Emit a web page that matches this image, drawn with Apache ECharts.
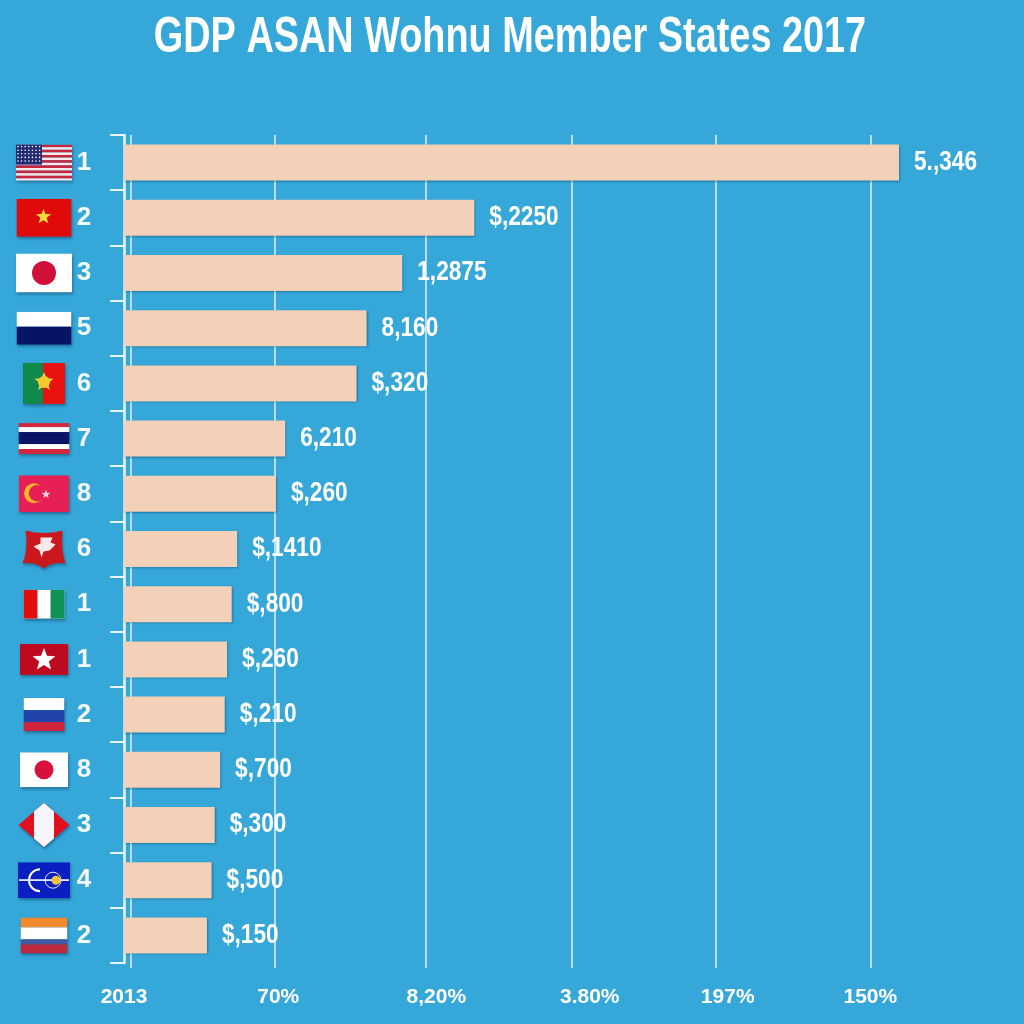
<!DOCTYPE html>
<html>
<head>
<meta charset="utf-8">
<style>html,body{margin:0;padding:0;background:#35A8D9}#c{width:1024px;height:1024px}</style>
<script src="https://cdn.jsdelivr.net/npm/echarts@6/dist/echarts.min.js"></script>
</head>
<body>
<div id="c"></div>
<script>
const titleText = "GDP ASAN Wohnu Member States 2017";
const rankLabels = ["1","2","3","5","6","7","8","6","1","1","2","8","3","4","2"];
const barValues = [100,45.2,35.9,31.3,30,20.8,19.6,14.6,13.9,13.3,13,12.4,11.7,11.3,10.7];
const valueLabels = ["5.,346","$,2250","1,2875","8,160","$,320","6,210","$,260","$,1410","$,800","$,260","$,210","$,700","$,300","$,500","$,150"];
const tickValues = [0.9,19.5,38.9,57.8,76.4,96.3];
const tickLabelValues = [0,19.9,40.3,60.1,77.9,96.3];
const tickLabels = ["2013","70%","8,20%","3.80%","197%","150%"];
const flagKeys = ["us","vn","jp","wb","pt","th","tr","lt","it","rs","ru","jp2","pe","bl","nl"];

const face = '"Liberation Sans",sans-serif';
const star = (cx,cy,r,fill)=>{let p=[];for(let i=0;i<10;i++){const a=-Math.PI/2+i*Math.PI/5,q=i%2?r*0.42:r;p.push((cx+q*Math.cos(a)).toFixed(1)+','+(cy+q*Math.sin(a)).toFixed(1));}return `<polygon points="${p.join(' ')}" fill="${fill}"/>`;};
const rects=(w,h,list)=>{let y=0;return list.map(([c,t])=>{const s=`<rect x="0" y="${y}" width="${w}" height="${t}" fill="${c}"/>`;y+=t;return s;}).join('');};
const usStripes=()=>{let s='';for(let i=0;i<7;i++){s+=`<rect x="0" y="${i*5.2}" width="56" height="2.6" fill="#C8253F"/><rect x="0" y="${i*5.2+2.6}" width="56" height="2.6" fill="#F8E8EA"/>`;}let d='';for(let r=0;r<5;r++)for(let c=0;c<7;c++)d+=`<circle cx="${2+c*3.6}" cy="${2+r*3.6}" r="0.8" fill="#fff"/>`;return s+`<rect width="26" height="20" fill="#232A72"/>`+d;};
const flags = {
 us:{w:56,h:36,svg:usStripes()},
 vn:{w:55,h:38,svg:`<rect width="55" height="38" fill="#E00A0A"/>`+star(27,18,8,'#F7D93A')},
 jp:{w:56,h:39,svg:`<rect width="56" height="39" fill="#fff"/><circle cx="28" cy="19.5" r="12" fill="#D0103A"/>`},
 wb:{w:55,h:33,svg:rects(55,33,[['#fff',15],['#071466',18]])},
 pt:{w:42,h:41,svg:`<rect width="42" height="41" fill="#E8120F"/><rect width="20" height="41" fill="#0F8A4C"/>`+star(21,19,10,'#F4D83A')+`<circle cx="21" cy="19" r="6" fill="#F4C92E"/>`},
 th:{w:51,h:31,svg:rects(51,31,[['#D0283A',4],['#fff',5],['#0B1464',12],['#fff',5],['#D0283A',5]])},
 tr:{w:50,h:37,svg:`<rect width="50" height="37" fill="#E61F55"/><circle cx="15" cy="18" r="10" fill="#F7B52A"/><circle cx="18" cy="18" r="8.2" fill="#E61F55"/>`+star(27,19,4.5,'#F6D5DA')},
 lt:{w:43,h:39,svg:`<path d="M3 1 Q21 6 40 1 Q38 20 43 34 Q30 32 21 39 Q12 32 0 34 Q6 20 3 1Z" fill="#C9191E"/><path d="M11 17 L18 14 L18 8 L30 8 L28 13 L33 15 L27 21 L21 22 L19 28 L17 21Z" fill="#F6E8E8"/>`},
 it:{w:41,h:29,svg:`<rect width="41" height="29" fill="#fff"/><rect width="14" height="29" fill="#E20E0E"/><rect x="27" width="14" height="29" fill="#0E9355"/>`},
 rs:{w:48,h:31,svg:`<rect width="48" height="31" fill="#BE0A1E"/>`+star(24,16,12,'#fff')},
 ru:{w:41,h:33,svg:rects(41,33,[['#fff',12],['#1F43A8',12],['#CE2339',9]])},
 jp2:{w:48,h:35,svg:`<rect width="48" height="35" fill="#fff"/><circle cx="24" cy="17.5" r="9.5" fill="#D9103C"/>`},
 pe:{w:51,h:44,svg:`<polygon points="25.5,0 51,22 25.5,44 0,22" fill="#E1101E"/><polygon points="25.5,0 35.5,8.6 35.5,35.4 25.5,44 15.5,35.4 15.5,8.6" fill="#F7F5FA"/>`},
 bl:{w:52,h:36,svg:`<rect width="52" height="36" fill="#0A1FBF"/><path d="M22 7 A11 11 0 1 0 22 29" fill="none" stroke="#fff" stroke-width="2"/><rect x="1" y="17" width="50" height="1.8" fill="#E8E4F8"/><circle cx="38" cy="18" r="4.5" fill="#F1C23E"/><circle cx="35" cy="18" r="8" fill="none" stroke="#E8E4F8" stroke-width="1"/>`},
 nl:{w:47,h:36,svg:rects(47,36,[['#F08A2C',10],['#fff',12],['#3F5AA0',5],['#BE2A3B',9]])}
};
const flagUri = k => 'data:image/svg+xml;charset=utf-8,'+encodeURIComponent(`<svg xmlns="http://www.w3.org/2000/svg" width="${flags[k].w}" height="${flags[k].h}" viewBox="0 0 ${flags[k].w} ${flags[k].h}">${flags[k].svg}</svg>`);

const chart = echarts.init(document.getElementById('c'), null, {renderer:'canvas'});
chart.setOption({
  animation:false,
  backgroundColor:'#35A8D9',
  graphic:[{type:'text',x:510,y:38,scaleX:0.757,z:10,
    style:{text:titleText,fill:'#fff',font:`bold 50px ${face}`,textAlign:'center',textVerticalAlign:'middle'}}],
  grid:{left:124,top:135,width:775,height:828,containLabel:false},
  xAxis:{type:'value',min:0,max:100,
    axisLine:{show:false},
    axisTick:{show:true,length:5,customValues:tickValues,lineStyle:{color:'rgba(255,255,255,.85)',width:1.5}},
    splitLine:{show:true,lineStyle:{color:'rgba(255,255,255,.85)',width:1.5}},
    axisLabel:{customValues:tickLabelValues,margin:24,color:'#fff',fontFamily:face,fontWeight:'bold',fontSize:21,
      hideOverlap:false,showMinLabel:true,showMaxLabel:true,
      formatter:v=>tickLabels[tickLabelValues.indexOf(v)]}
  },
  yAxis:{type:'category',inverse:true,data:rankLabels,
    axisLine:{show:true,lineStyle:{color:'#EAF6FB',width:2.5}},
    axisTick:{show:true,length:14,alignWithLabel:false,lineStyle:{color:'#EAF6FB',width:2}},
    splitLine:{show:false},
    axisLabel:{margin:40,align:'center',color:'#F2FAFD',fontFamily:face,fontWeight:'bold',fontSize:26,interval:0}
  },
  series:[
    {type:'bar',data:barValues,barWidth:36,z:3,
     itemStyle:{color:'#F3D1B9',shadowColor:'rgba(0,40,80,.35)',shadowBlur:2,shadowOffsetX:1,shadowOffsetY:1}},
    {type:'custom',z:4,clip:false,silent:true,
     data:barValues.map((v,i)=>[v,i]),encode:{x:0,y:1},
     renderItem:(params,api)=>{
       const i=api.value(1),c=api.coord([api.value(0),i]);
       return {type:'text',x:c[0]+15,y:c[1],scaleX:0.84,
         style:{text:valueLabels[i],fill:'#fff',font:`bold 27px ${face}`,textAlign:'left',textVerticalAlign:'middle'}};
     }},
    {type:'custom',z:4,clip:false,silent:true,
     data:flagKeys.map((k,i)=>[0,i]),encode:{x:0,y:1},
     renderItem:(params,api)=>{
       const i=api.value(1),k=flagKeys[i],f=flags[k],c=api.coord([0,i]);
       return {type:'image',style:{image:flagUri(k),x:c[0]-80-f.w/2,y:c[1]-f.h/2,width:f.w,height:f.h,
         shadowColor:'rgba(0,30,70,.4)',shadowBlur:3,shadowOffsetX:1,shadowOffsetY:2}};
     }}
  ]
});
</script>
</body>
</html>
